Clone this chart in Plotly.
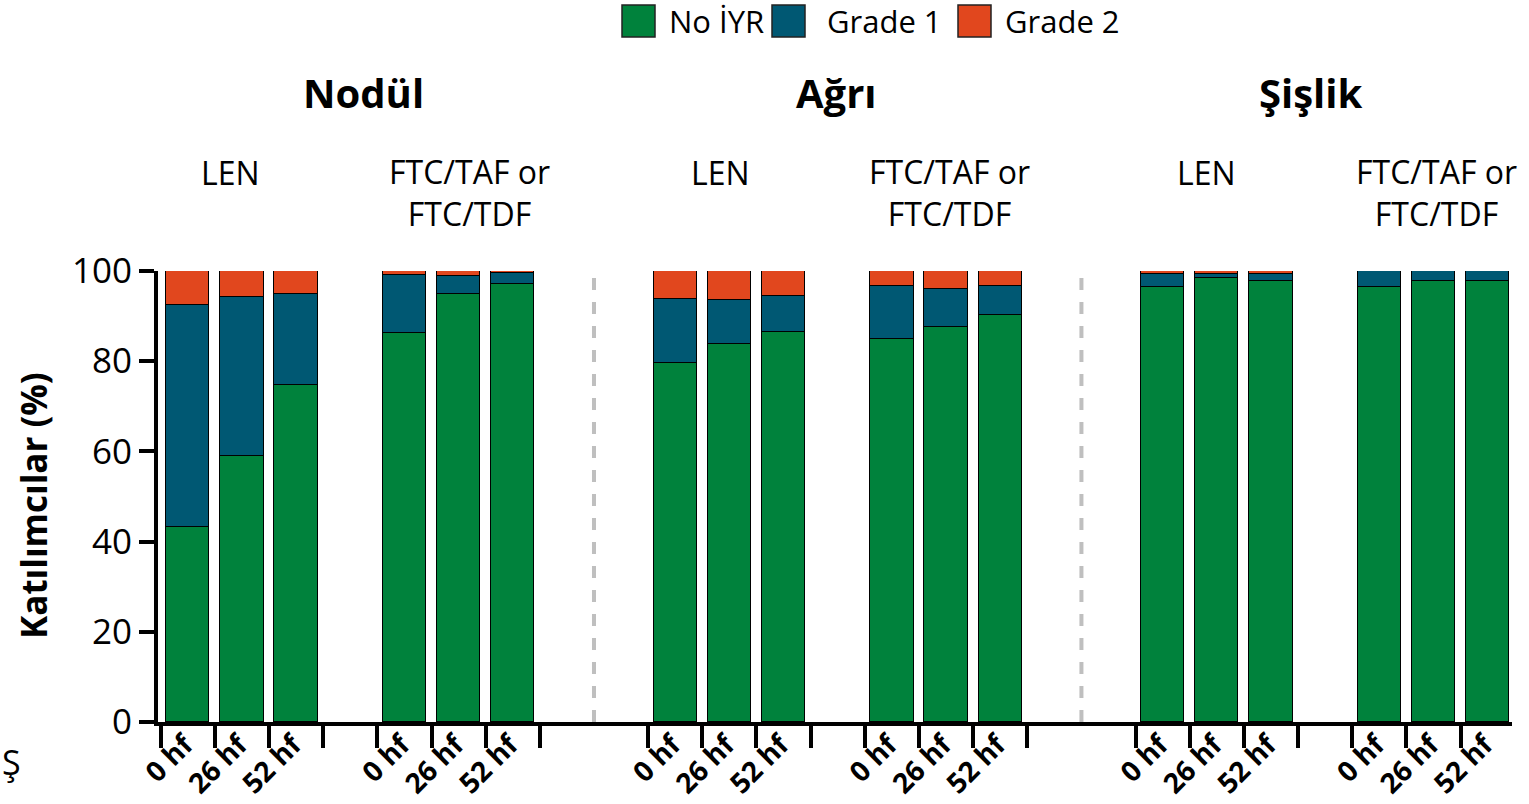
import plotly.graph_objects as go

# Panels, treatment groups and visits
panels = ["Nodül", "Ağrı", "Şişlik"]
groups = ["LEN", "FTC/TAF or<br>FTC/TDF"]
visits = ["0 hf", "26 hf", "52 hf"]

# Percent of participants per bar (panel -> group -> visit order)
no_iyr = [43.2, 59.0, 74.7, 86.3, 95.0, 97.2,
          79.6, 83.8, 86.4, 84.9, 87.6, 90.2,
          96.4, 98.4, 97.7, 96.4, 97.7, 97.7]
grade1 = [49.3, 35.2, 20.2, 12.8, 3.9, 2.3,
          14.2, 9.8, 8.1, 11.7, 8.3, 6.4,
          3.0, 0.9, 1.7, 3.6, 2.3, 2.3]
grade2 = [7.5, 5.8, 5.1, 0.9, 1.1, 0.5,
          6.2, 6.4, 5.5, 3.4, 4.1, 3.4,
          0.6, 0.7, 0.6, 0.0, 0.0, 0.0]

series = [("No İYR", no_iyr, "#00823C"),
          ("Grade 1", grade1, "#005873"),
          ("Grade 2", grade2, "#E1471E")]

FONT = "Open Sans"
PANEL_STEP = 9   # slots per panel (two groups of three plus gaps)
GROUP_STEP = 4   # slots per group (three bars plus a gap)

# Slot positions of every bar
xpos = []
for p in range(len(panels)):
    for g in range(len(groups)):
        for t in range(len(visits)):
            xpos.append(p * PANEL_STEP + g * GROUP_STEP + t)

fig = go.Figure()
for name, vals, col in series:
    fig.add_trace(go.Bar(
        x=xpos, y=vals, name=name, width=0.8,
        marker=dict(color=col, line=dict(color="black", width=1.5)),
        showlegend=False, xaxis="x",
    ))

# Tick marks at bar boundaries within each group
boundaries = []
for p in range(len(panels)):
    for g in range(len(groups)):
        start = p * PANEL_STEP + g * GROUP_STEP
        boundaries += [start - 0.5 + k for k in range(len(visits) + 1)]

# invisible trace to hold the label axis
fig.add_trace(go.Scatter(x=[xpos[0]], y=[0], xaxis="x2", mode="markers",
                         marker=dict(opacity=0), showlegend=False,
                         hoverinfo="skip"))

xr = [-0.55, 24.45]
fig.update_layout(
    width=1529, height=804,
    margin=dict(l=158, r=17, t=271, b=82),
    barmode="stack", bargap=0,
    plot_bgcolor="white", paper_bgcolor="white",
    font=dict(family=FONT, color="black"),
    xaxis=dict(range=xr, tickmode="array", tickvals=boundaries,
               showticklabels=False, ticks="outside", ticklen=22,
               tickwidth=4, tickcolor="black", showline=True,
               linecolor="black", linewidth=4, showgrid=False,
               zeroline=False, automargin=False),
    xaxis2=dict(range=xr, overlaying="x", anchor="y", side="bottom",
                tickmode="array", tickvals=xpos,
                ticktext=[visits[i % 3] for i in range(len(xpos))],
                tickangle=-45, ticks="", showline=False, showgrid=False,
                zeroline=False, automargin=False,
                tickfont=dict(family=FONT, size=28, color="black",
                              weight="bold"),
                ticklabelstandoff=0, ticklabelshift=-3),
    yaxis=dict(range=[0, 100], tickvals=[0, 20, 40, 60, 80, 100],
               ticks="outside", ticklen=15, tickwidth=4, tickcolor="black",
               showline=True, linecolor="black", linewidth=4,
               showgrid=False, zeroline=False, automargin=False,
               tickfont=dict(family=FONT, size=35, color="black")),
)

# Dashed separators between panels
for p in range(1, len(panels)):
    xs = p * PANEL_STEP - 1.5
    fig.add_shape(type="line", xref="x", yref="y", x0=xs, x1=xs, y0=0, y1=100,
                  line=dict(color="#BFBFBF", width=4, dash="dash"))

# Pixel helpers for the annotation layer
PW, PH, L, T = 1354, 451, 158, 271
def px(x): return (x - L) / PW
def py(y): return (T + PH - y) / PH

# Y-axis title
fig.add_annotation(x=px(33), y=py(506), xref="paper", yref="paper",
                   text="<b>Katılımcılar (%)</b>", textangle=-90,
                   showarrow=False, xanchor="center", yanchor="middle",
                   font=dict(family=FONT, size=35, color="black"))

# Panel titles and group labels
title_x = [3.25, 11.98, 20.73]
group_x = [[0.78, 5.2], [9.84, 14.07], [18.81, 23.06]]
for p, name in enumerate(panels):
    fig.add_annotation(x=title_x[p], y=py(93), xref="x", yref="paper",
                       text=f"<b>{name}</b>", showarrow=False,
                       yanchor="middle",
                       font=dict(family=FONT, size=40, color="black"))
    for g, lab in enumerate(groups):
        fig.add_annotation(x=group_x[p][g], y=py(172 if g == 0 else 192),
                           xref="x", yref="paper", text=lab,
                           showarrow=False, yanchor="middle",
                           font=dict(family=FONT, size=32, color="black"))

# Legend drawn as swatches and labels along the top
legend_items = [(s[0], s[2], sx, tx) for s, sx, tx in
                zip(series, [622, 772, 958], [667, 825, 1003])]
for name, col, sx, tx in legend_items:
    fig.add_shape(type="rect", xref="paper", yref="paper",
                  x0=px(sx), x1=px(sx + 33), y0=py(37), y1=py(5),
                  fillcolor=col, line=dict(color="#222222", width=1.5))
    fig.add_annotation(x=px(tx), y=py(21), xref="paper", yref="paper",
                       xanchor="left", yanchor="middle", text=name,
                       showarrow=False,
                       font=dict(family=FONT, size=31, color="black"))

# Glyph at the lower-left edge
fig.add_annotation(x=px(0), y=py(762), xref="paper", yref="paper",
                   text="Ş", showarrow=False, xanchor="left",
                   yanchor="middle",
                   font=dict(family=FONT, size=34, color="black"))

fig.write_html("out.html")
